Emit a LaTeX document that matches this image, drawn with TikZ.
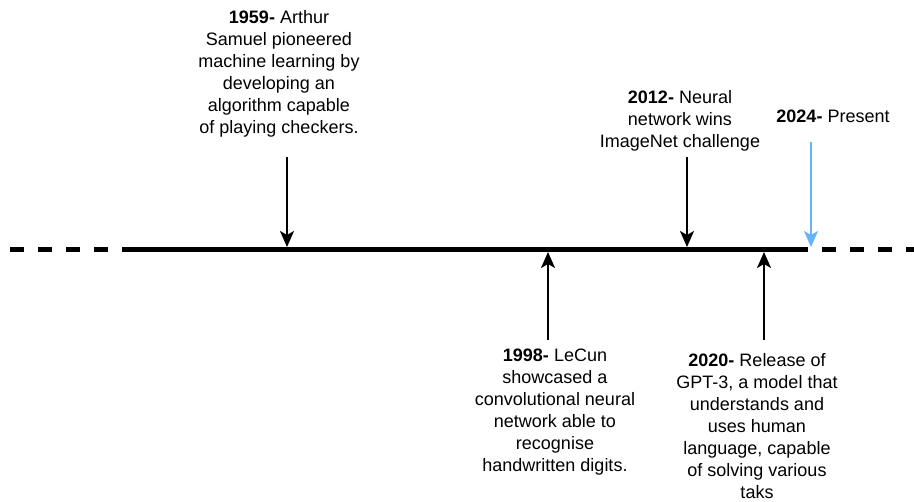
\documentclass[tikz,border=0pt]{standalone}
\usepackage{fontspec}
\setmainfont{Liberation Sans}
\usetikzlibrary{arrows.meta}
\definecolor{evblue}{HTML}{66B2FF}
\begin{document}
\begin{tikzpicture}[x=1pt,y=-1pt,
  txt/.style={font=\fontsize{18}{22}\selectfont, align=center, inner sep=0pt, text=black},
  evarrow/.style={line width=2pt, -{Stealth[length=16pt,width=14pt,inset=4pt]}},
  axis/.style={line width=4.5pt}
]
\useasboundingbox (0,0) rectangle (914,502);
% timeline
\coordinate (dashL) at (10,249.5);
\coordinate (dashR) at (920,249.5);
\coordinate (solidL) at (135,249.5);
\coordinate (solidR) at (796,249.5);
\draw[axis, dash pattern=on 14pt off 14pt] (dashL) -- (dashR);
\draw[axis] (solidL) -- (solidR);

% 1959
\node[txt, anchor=north] (t1959) at (279,10) {\textbf{1959-} Arthur\\Samuel pioneered\\machine learning by\\developing an\\algorithm capable\\of playing checkers.};
\coordinate (s1959) at (287,157);
\coordinate (e1959) at (287,247);
\draw[evarrow] (s1959) -- (e1959);

% 2012
\node[txt, anchor=north] (t2012) at (680,90) {\textbf{2012-} Neural\\network wins\\ImageNet challenge};
\coordinate (s2012) at (687,157);
\coordinate (e2012) at (687,247);
\draw[evarrow] (s2012) -- (e2012);

% 2024
\node[txt, anchor=base] (t2024) at (833,123) {\textbf{2024-} Present};
\coordinate (s2024) at (811,142);
\coordinate (e2024) at (811,247);
\draw[evarrow, evblue] (s2024) -- (e2024);

% 1998
\node[txt, anchor=north] (t1998) at (555,349) {\textbf{1998-} LeCun\\showcased a\\convolutional neural\\network able to\\recognise\\handwritten digits.};
\coordinate (s1998) at (548,340);
\coordinate (e1998) at (548,252);
\draw[evarrow] (s1998) -- (e1998);

% 2020
\node[txt, anchor=north] (t2020) at (757,353) {\textbf{2020-} Release of\\GPT-3, a model that\\understands and\\uses human\\language, capable\\of solving various\\taks};
\coordinate (s2020) at (764,340);
\coordinate (e2020) at (764,252);
\draw[evarrow] (s2020) -- (e2020);
\end{tikzpicture}
\end{document}
